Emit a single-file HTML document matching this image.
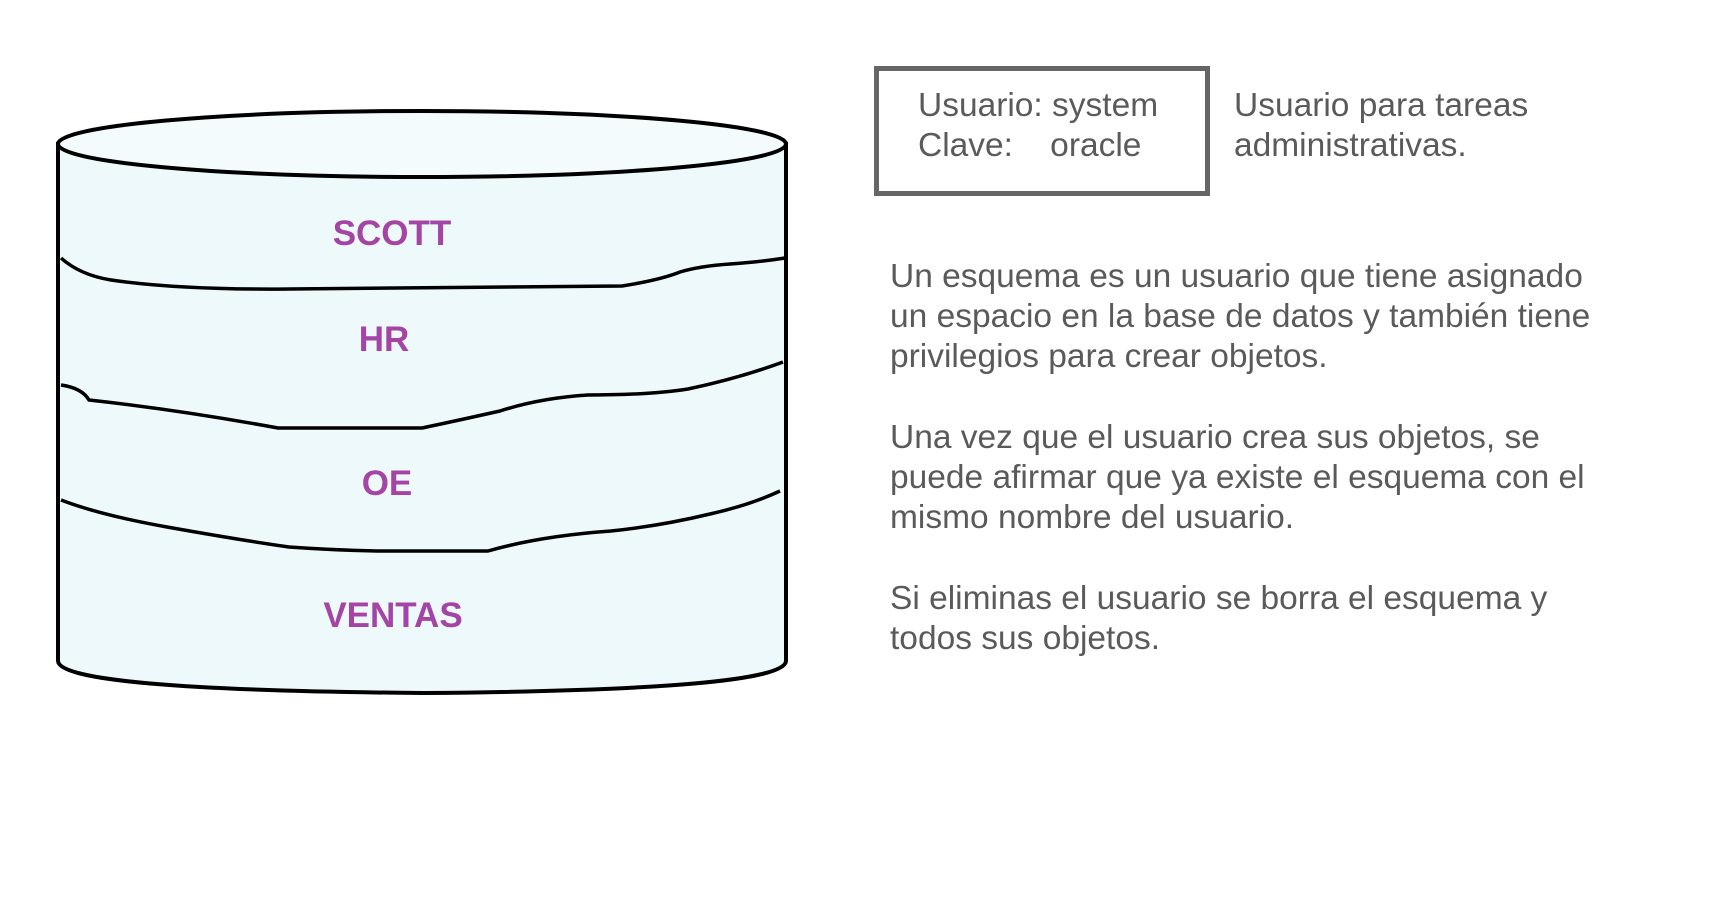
<!DOCTYPE html>
<html><head><meta charset="utf-8"><style>
body{margin:0;width:1732px;height:900px;background:#fff;position:relative;overflow:hidden;font-family:"Liberation Sans",Arial,sans-serif;}
.t{position:absolute;color:#5a5a5a;font-size:33.5px;line-height:40px;white-space:nowrap;}
.box{position:absolute;left:874px;top:66px;width:326px;height:120px;border:5px solid #666;}
</style></head><body>
<svg width="1732" height="900" style="position:absolute;left:0;top:0">
<path d="M58,144 L58,661 Q60,690 423,693 Q784,690 786,661 L786,144 Z" fill="#eef9fb" stroke="#000" stroke-width="4"/>
<ellipse cx="422" cy="144" rx="364" ry="33" fill="#f3fbfc" stroke="#000" stroke-width="4"/>
<path d="M61,258 Q80,275 111,280 Q180,290 289,289 L622,286 Q660,280 680,272 Q700,266 730,264 Q760,262 785,258" fill="none" stroke="#000" stroke-width="3.5"/>
<path d="M61,385 Q82,388 89,400 Q180,410 278,428 L422,428 Q460,420 500,411 Q540,398 588,395 Q650,395 688,389 Q740,378 783,362" fill="none" stroke="#000" stroke-width="3.5"/>
<path d="M61,500 Q100,515 167,527 Q240,540 289,547 Q330,550 377,551 L488,551 Q540,536 611,531 Q660,526 710,514 Q750,505 780,491" fill="none" stroke="#000" stroke-width="3.5"/>
<g font-family="Liberation Sans, Arial, sans-serif" font-weight="bold" font-size="35" fill="#a444a4" text-anchor="middle">
<text x="392" y="245">SCOTT</text>
<text x="384" y="351">HR</text>
<text x="387" y="495">OE</text>
<text x="393" y="627">VENTAS</text>
</g>
</svg>
<div class="box"></div>
<div class="t" style="left:918px;top:86px">Usuario: system<br>Clave:&nbsp;&nbsp;&nbsp;&nbsp;oracle</div>
<div class="t" style="left:1234px;top:86px">Usuario para tareas<br>administrativas.</div>
<div class="t" style="left:890px;top:257px">Un esquema es un usuario que tiene asignado<br>un espacio en la base de datos y también tiene<br>privilegios para crear objetos.</div>
<div class="t" style="left:890px;top:418px">Una vez que el usuario crea sus objetos, se<br>puede afirmar que ya existe el esquema con el<br>mismo nombre del usuario.</div>
<div class="t" style="left:890px;top:579px">Si eliminas el usuario se borra el esquema y<br>todos sus objetos.</div>
</body></html>
